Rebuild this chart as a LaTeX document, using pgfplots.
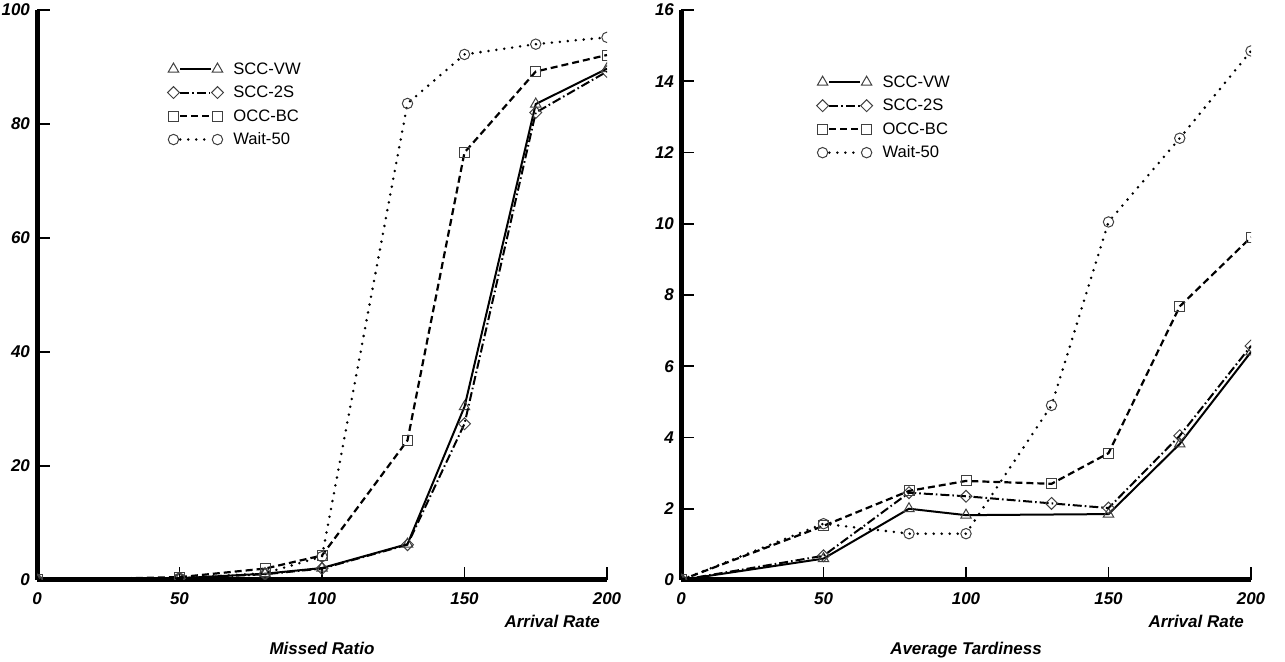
\documentclass[border=0pt]{standalone}
\usepackage{fontspec}
\setmainfont{Liberation Sans}
\usepackage{pgfplots}
\pgfplotsset{compat=1.18}

\pgfplotsset{
  myaxis/.style={
    scale only axis, width=285pt, height=285pt,
    anchor=south west,
    xmin=0, xmax=200, xtick={0,50,100,150,200},
    ymin=0,
    axis lines*=left,
    axis line style={line width=2.5pt, -},
    x axis line style={-},
    y axis line style={-},
    tick align=inside,
    major tick length=6.5pt,
    every tick/.style={black, line width=0.8pt},
    tick label style={font=\fontsize{8.5}{10}\selectfont\bfseries\itshape},
    /pgf/number format/assume math mode=true,
    xticklabel style={yshift=-3pt},
    clip marker paths=true,
    legend cell align=left,
    legend style={draw=none, fill=none, inner sep=0pt, outer sep=0pt,
      font=\fontsize{8.3}{10}\selectfont, row sep=0pt,
      nodes={inner sep=1pt, text height=7.5pt, text depth=2.25pt},
      /tikz/every odd column/.append style={column sep=4pt},
      anchor=north west},
    legend image code/.code={
      \draw[##1,mark=none] (3.4pt,0pt) -- (18.6pt,0pt);
      \draw[##1,only marks] plot coordinates {(0pt,0pt) (22pt,0pt)};
    },
    xlabel={Arrival Rate},
    xlabel style={at={(axis description cs:1,0)}, anchor=base east, yshift=-24pt,
      font=\fontsize{8.5}{10}\selectfont\bfseries\itshape},
    title style={at={(axis description cs:0.5,0)}, anchor=base, yshift=-43.5pt,
      font=\fontsize{8.5}{10}\selectfont\bfseries\itshape},
  },
  vw/.style={black, line width=1pt, solid, mark=triangle, mark size=3pt,
    mark options={solid, black!75, line width=0.5pt}},
  ts/.style={black, line width=1pt, dash pattern=on 4.5pt off 1.5pt on 0.8pt off 1.5pt,
    mark=square, mark size=2.1pt,
    mark options={solid, rotate=45, black!75, line width=0.5pt}},
  bc/.style={black, line width=1.1pt, dash pattern=on 3.5pt off 2pt,
    mark=square, mark size=2.5pt,
    mark options={solid, black!75, line width=0.5pt}},
  wt/.style={black, line width=1.4pt, line cap=round, dash pattern=on 0pt off 4pt,
    mark=o, mark size=2.6pt,
    mark options={solid, black!75, line width=0.5pt, line cap=butt}},
}

\begin{document}
\begin{tikzpicture}
\useasboundingbox (0,0) rectangle (642.5pt,331pt);

\begin{axis}[myaxis, at={(18.5pt,41pt)},
  ymax=100, ytick={0,20,40,60,80,100},
  title={Missed Ratio},
  legend style={at={(axis description cs:0.229,0.917)}}]
\addplot[vw] coordinates {(0,0) (50,0.3) (80,1.1) (100,2.1) (130,6.3) (150,30.4) (175,83.5) (200,89.7)};
\addlegendentry{SCC-VW}
\addplot[ts] coordinates {(0,0) (50,0.3) (80,1.0) (100,2.0) (130,6.2) (150,27.4) (175,82.0) (200,89.2)};
\addlegendentry{SCC-2S}
\addplot[bc] coordinates {(0,0) (50,0.5) (80,2.0) (100,4.3) (130,24.5) (150,75.0) (175,89.2) (200,92.1)};
\addlegendentry{OCC-BC}
\addplot[wt] coordinates {(0,0) (50,0.3) (80,1.2) (100,4.1) (130,83.6) (150,92.2) (175,94.0) (200,95.2)};
\addlegendentry{Wait-50}
\end{axis}

\begin{axis}[myaxis, at={(340.5pt,41pt)},
  ymax=16, ytick={0,2,4,6,8,10,12,14,16},
  title={Average Tardiness},
  legend style={at={(axis description cs:0.238,0.894)}}]
\addplot[vw] coordinates {(0,0) (50,0.6) (80,2.0) (100,1.82) (150,1.85) (175,3.82) (200,6.4)};
\addlegendentry{SCC-VW}
\addplot[ts] coordinates {(0,0) (50,0.68) (80,2.45) (100,2.35) (130,2.15) (150,2.02) (175,4.05) (200,6.57)};
\addlegendentry{SCC-2S}
\addplot[bc] coordinates {(0,0) (50,1.52) (80,2.5) (100,2.78) (130,2.7) (150,3.56) (175,7.68) (200,9.62)};
\addlegendentry{OCC-BC}
\addplot[wt] coordinates {(0,0) (50,1.58) (80,1.3) (100,1.3) (130,4.9) (150,10.05) (175,12.4) (200,14.85)};
\addlegendentry{Wait-50}
\end{axis}
\end{tikzpicture}
\end{document}
